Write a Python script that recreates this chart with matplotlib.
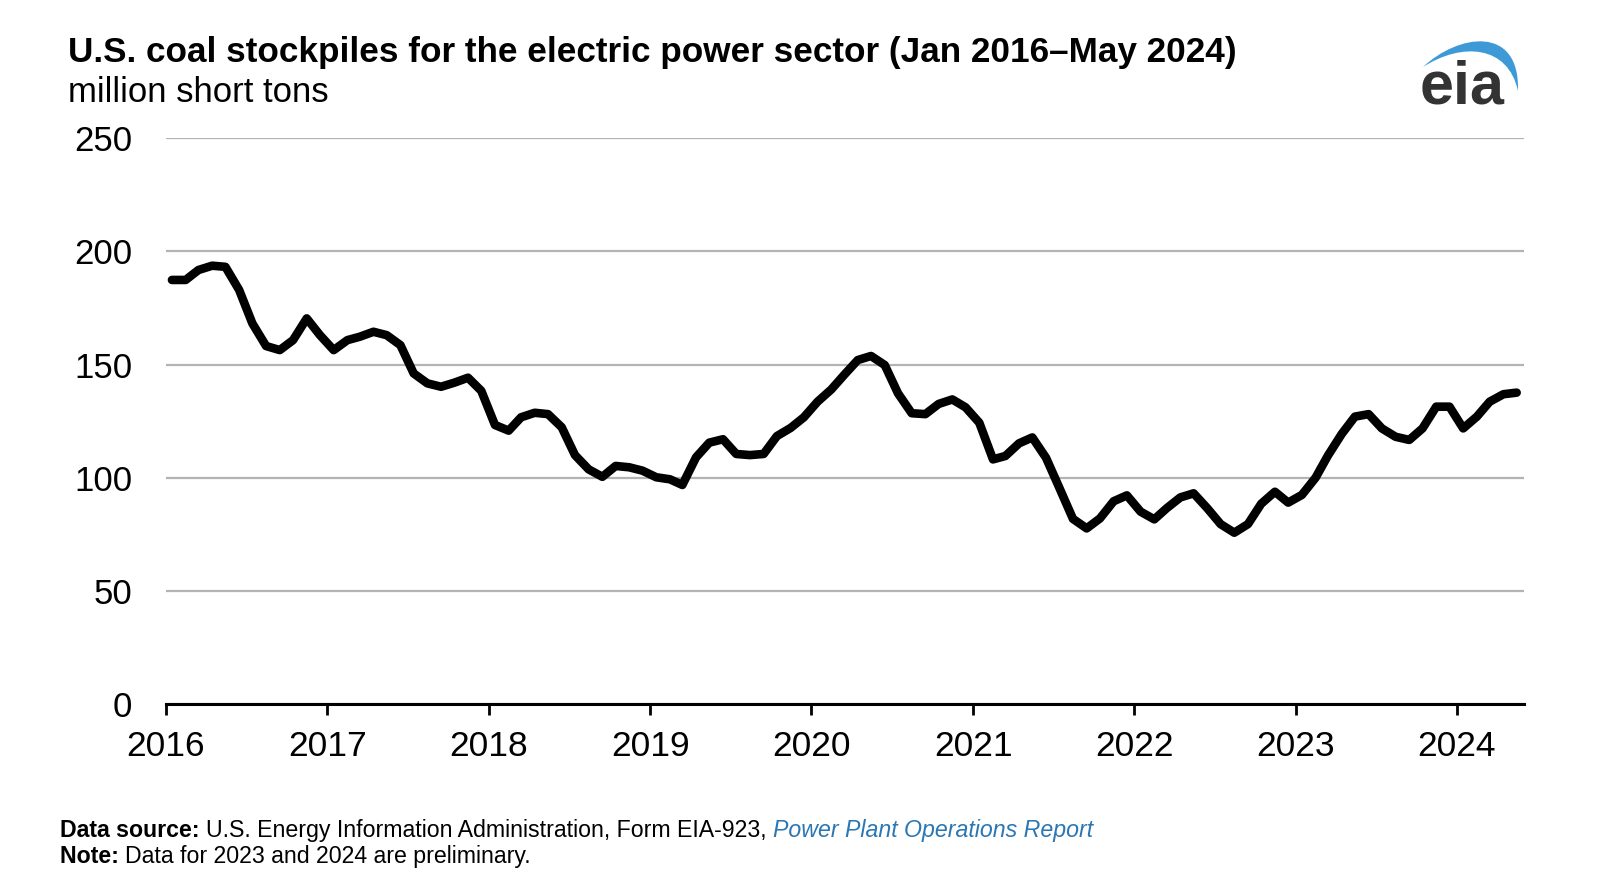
import matplotlib
matplotlib.use('Agg')
import matplotlib.pyplot as plt
import matplotlib.dates as mdates
from matplotlib.patches import PathPatch
from matplotlib.path import Path
import pandas as pd

plt.rcParams['font.family'] = ['Liberation Sans', 'DejaVu Sans']

# monthly stockpiles, million short tons, Jan 2016 - May 2024
stock_2016 = [187.4, 187.4, 191.8, 193.7, 193.2, 183.0, 168.2, 158.2, 156.4, 160.8, 170.4, 163.0]
stock_2017 = [156.4, 160.8, 162.3, 164.5, 163.0, 158.6, 146.1, 141.7, 140.2, 142.0, 144.2, 138.4]
stock_2018 = [123.3, 120.8, 126.7, 128.7, 128.1, 122.3, 110.0, 103.7, 100.4, 105.2, 104.6, 103.1]
stock_2019 = [100.2, 99.3, 96.8, 109.0, 115.5, 117.0, 110.5, 110.0, 110.5, 118.4, 122.0, 126.7]
stock_2020 = [133.6, 139.0, 145.4, 152.0, 153.8, 149.8, 137.3, 128.5, 128.1, 132.6, 134.6, 131.1]
stock_2021 = [124.3, 108.1, 109.6, 115.2, 117.8, 108.8, 95.6, 81.8, 77.6, 82.0, 89.6, 92.2]
stock_2022 = [85.0, 81.6, 86.5, 91.3, 93.1, 86.5, 79.5, 75.7, 79.5, 88.5, 93.8, 89.0]
stock_2023 = [92.4, 100.0, 109.8, 119.3, 127.0, 128.1, 121.8, 118.1, 116.7, 121.8, 131.4, 131.4]
stock_2024 = [121.8, 127.0, 133.6, 136.9, 137.6]

stocks = stock_2016 + stock_2017 + stock_2018 + stock_2019 + stock_2020 + stock_2021 + stock_2022 + stock_2023 + stock_2024
# plotted mid-month
months = pd.date_range('2016-01-01', periods=len(stocks), freq='MS') + pd.Timedelta(days=14)

y_ticks = [0, 50, 100, 150, 200, 250]
x_years = list(range(2016, 2025))

fig = plt.figure(figsize=(16, 8.9), dpi=100)
ax = fig.add_axes([0.1036, 0.209, 0.849, 0.6356])

ax.plot(months, stocks, color='black', lw=6.2, solid_capstyle='round', solid_joinstyle='round', zorder=3)

ax.set_ylim(0, 250)
ax.set_yticks(y_ticks)
ax.set_xlim(pd.Timestamp('2016-01-01'), pd.Timestamp('2024-06-01'))
ax.set_xticks([pd.Timestamp(f'{y}-01-01') for y in x_years])
ax.xaxis.set_major_formatter(mdates.DateFormatter('%Y'))

ax.grid(axis='y', color='#b3b3b3', lw=1.6)
ax.set_axisbelow(True)
for s in ['top', 'right', 'left']:
    ax.spines[s].set_visible(False)
ax.spines['bottom'].set_linewidth(2.2)
ax.spines['bottom'].set_zorder(4)
ax.tick_params(axis='y', length=0, pad=24, labelsize=25)
ax.tick_params(axis='x', length=8, width=2, pad=11, labelsize=25.5)

# title block
fig.text(68 / 1600, 1 - 61.7 / 890, 'U.S. coal stockpiles for the electric power sector (Jan 2016\u2013May 2024)',
         fontsize=25.3, fontweight='bold', ha='left', va='baseline')
fig.text(68 / 1600, 1 - 101.7 / 890, 'million short tons', fontsize=25, ha='left', va='baseline')

# footer
fs = 16.7
fig.canvas.draw()
r = fig.canvas.get_renderer()
t = fig.text(60 / 1600, 1 - 836.7 / 890, 'Data source: ', fontsize=fs, fontweight='bold', ha='left', va='baseline')
x1 = t.get_window_extent(r).x1 / 1600
t2 = fig.text(x1, 1 - 836.7 / 890, 'U.S. Energy Information Administration, Form EIA-923, ', fontsize=fs,
              ha='left', va='baseline')
x2 = t2.get_window_extent(r).x1 / 1600
fig.text(x2, 1 - 836.7 / 890, 'Power Plant Operations Report', fontsize=fs, style='italic',
         color='#2b77b3', ha='left', va='baseline')
t3 = fig.text(60 / 1600, 1 - 863.3 / 890, 'Note: ', fontsize=fs, fontweight='bold', ha='left', va='baseline')
x3 = t3.get_window_extent(r).x1 / 1600
fig.text(x3, 1 - 863.3 / 890, 'Data for 2023 and 2024 are preliminary.', fontsize=fs, ha='left', va='baseline')

# eia logo
fig.text(1462 / 1600, 1 - 104 / 890, 'eia', fontsize=44, fontweight='bold', color='#333333',
         ha='center', va='baseline')


def px(x, y):
    return (x / 1600, 1 - y / 890)


verts = [px(1423, 67), px(1458, 34), px(1520, 24), px(1518, 91),
         px(1508, 45), px(1462, 42), px(1423, 67), px(1423, 67)]
codes = [Path.MOVETO, Path.CURVE4, Path.CURVE4, Path.CURVE4,
         Path.CURVE4, Path.CURVE4, Path.CURVE4, Path.CLOSEPOLY]
arc = PathPatch(Path(verts, codes), transform=fig.transFigure, facecolor='#3d9ad6', edgecolor='none')
fig.patches.append(arc)

fig.savefig('out.png', dpi=100)
